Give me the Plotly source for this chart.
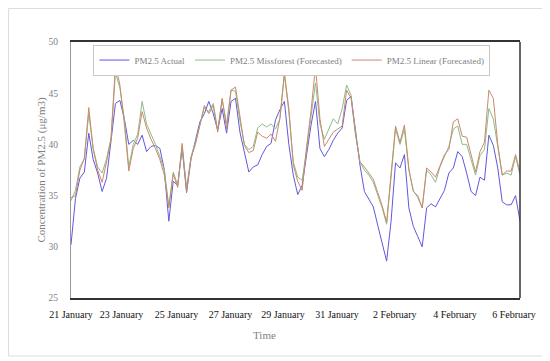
import plotly.graph_objects as go

# 4-hourly readings, 21 January 00:00 -> 6 February 20:00
step_index = list(range(102))

actual = [30.2, 34.7, 36.7, 37.3, 41.1, 38.5, 37.2, 35.4, 36.7, 40.3,
          44.0, 44.3, 42.5, 40.0, 40.4, 40.0, 40.9, 39.3, 39.8, 39.9,
          39.6, 37.5, 32.5, 36.4, 36.0, 39.6, 35.3, 38.6, 40.3, 42.2,
          43.0, 44.2, 43.0, 41.4, 43.5, 41.1, 44.2, 44.5, 41.2, 39.3,
          37.3, 37.8, 38.0, 39.0, 39.8, 40.1, 42.4, 43.4, 44.2, 40.0,
          37.0, 35.1, 36.0, 39.0, 41.9, 44.2, 39.6, 38.8, 39.5, 40.4,
          41.1, 41.6, 44.3, 44.7, 41.4, 38.0, 35.4, 34.6, 33.9, 32.1,
          30.2, 28.6, 32.5, 38.2, 37.7, 39.0, 33.8, 32.0, 31.0, 30.0,
          33.8, 34.2, 33.9, 34.7, 35.5, 37.2, 37.7, 39.3, 38.8, 37.2,
          35.4, 35.0, 36.8, 36.5, 40.9, 39.9, 37.7, 34.4, 34.1, 34.1,
          35.0, 32.5]

missforest = [34.5, 35.5, 37.8, 38.6, 43.0, 39.6, 37.8, 37.2, 38.6, 40.6,
              47.0, 45.5, 42.5, 37.8, 40.0, 41.0, 44.2, 42.0, 41.0, 40.0,
              38.8, 37.5, 34.0, 37.3, 36.0, 39.8, 35.8, 38.8, 40.2, 41.8,
              43.6, 43.2, 44.0, 41.4, 44.4, 42.0, 45.3, 45.2, 42.3, 40.0,
              39.5, 39.8, 41.6, 42.0, 41.7, 42.0, 41.5, 42.5, 46.8, 43.2,
              38.3, 36.8, 36.5, 39.5, 43.0, 46.0, 42.0, 40.5, 41.5, 42.5,
              42.0, 43.5, 45.8, 44.8, 41.0, 38.3, 37.5, 37.0, 36.3, 35.0,
              33.8, 32.2, 36.5, 41.5, 40.0, 41.5, 37.5, 35.5, 34.8, 33.8,
              37.5, 37.0, 36.3, 37.8, 38.8, 39.8, 41.5, 41.8, 40.0, 40.0,
              38.5, 37.0, 38.9, 39.5, 43.5, 42.5, 39.8, 37.0, 37.2, 37.0,
              38.8, 37.0]

linear = [34.8, 35.0, 37.5, 38.6, 43.6, 39.5, 37.5, 36.3, 38.3, 40.5,
          47.8, 45.8, 42.0, 37.4, 39.6, 40.6, 43.2, 41.6, 40.5, 39.6,
          38.5, 37.0, 33.8, 37.1, 35.8, 40.1, 35.4, 38.7, 40.0, 41.8,
          43.8, 43.0, 43.8, 41.2, 44.5, 41.5, 45.3, 45.6, 42.6, 39.9,
          39.2, 39.4, 41.2, 40.8, 40.6, 41.0, 40.3, 42.6, 47.0, 43.5,
          38.0, 36.4, 35.5, 39.8, 43.3, 47.6, 42.5, 39.8, 40.5, 41.2,
          41.5, 41.8, 45.3, 44.5, 41.0, 38.3, 37.8, 37.2, 36.6, 35.3,
          34.0, 32.4, 36.8, 41.8, 40.2, 41.9, 37.6, 35.4, 35.0, 33.8,
          37.7, 37.3, 36.8, 38.0, 39.0, 39.5, 42.2, 42.5, 40.8, 40.7,
          38.9, 37.3, 39.3, 40.2, 45.3, 44.5, 40.0, 37.0, 37.4, 37.4,
          39.0, 37.3]

series_names = ["PM2.5 Actual", "PM2.5 Missforest (Forecasted)", "PM2.5 Linear (Forecasted)"]
series_colors = ["#6158dc", "#8dbb8a", "#c98a6c"]

tick_labels = ["21 January", "23 January", "25 January", "27 January", "29 January",
               "31 January", "2 February", "4 February", "6 February"]
tick_positions = [0, 11.36, 23.73, 35.87, 47.68, 59.83, 72.81, 86.37, 99.64]

FONT = "Liberation Serif"

fig = go.Figure()
for name, vals, col in zip(series_names, [actual, missforest, linear], series_colors):
    fig.add_trace(go.Scatter(x=step_index, y=vals, mode="lines", name=name,
                             line=dict(color=col, width=1)))

# page body has an 8px margin, so the figure is 542x353 with margins offset by 8px
fig.update_layout(
    width=542, height=353,
    margin=dict(l=63, r=30, t=34, b=63, autoexpand=False),
    paper_bgcolor="white", plot_bgcolor="white",
    font=dict(family=FONT, color="#808080", size=10),
    showlegend=True,
    legend=dict(orientation="h", x=0.05, y=0.99, xanchor="left", yanchor="top",
                font=dict(size=9, color="#808080", family=FONT),
                bordercolor="#c8c8c8", borderwidth=1, bgcolor="white",
                itemwidth=30, tracegroupgap=0),
    xaxis=dict(range=[0, 101], tickvals=tick_positions, ticktext=tick_labels,
               tickfont=dict(size=10, color="#111111", family=FONT),
               showgrid=False, zeroline=False, showline=True, linecolor="#333333",
               linewidth=1.5, mirror=True, ticks="", ticklabelstandoff=6,
               automargin=False),
    yaxis=dict(range=[25, 50], dtick=5, showgrid=False, zeroline=False,
               showline=True, linecolor="#9a9a9a", linewidth=1, ticks="",
               tickfont=dict(size=9.5, color="#808080", family=FONT),
               ticklabelstandoff=10, automargin=False,
               title=dict(text="Concentration of PM2.5 (μg/m3)",
                          font=dict(size=11, color="#808080", family=FONT), standoff=0)),
    annotations=[dict(text="Time", xref="paper", yref="paper", x=0.432, y=-0.1445,
                      xanchor="center", yanchor="middle", showarrow=False,
                      font=dict(size=11, color="#808080", family=FONT))],
    shapes=[
        dict(type="line", xref="paper", yref="paper", x0=1, x1=1, y0=0, y1=1,
             line=dict(color="#333333", width=1.5)),
        dict(type="rect", xref="paper", yref="paper", x0=-0.139, x1=1.0557,
             y0=-0.2266, y1=1.1309, line=dict(color="#dddddd", width=1)),
    ],
)

fig.write_html("out.html")
